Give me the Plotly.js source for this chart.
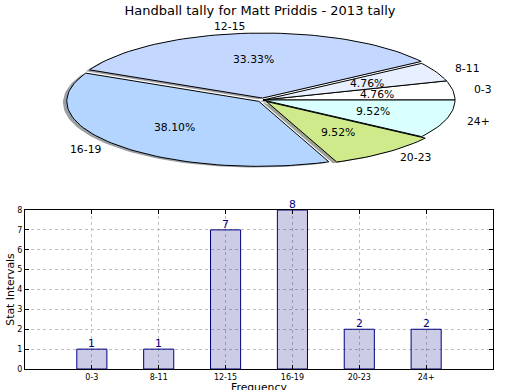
<!DOCTYPE html>
<html>
<head>
<meta charset="utf-8">
<script src="https://cdn.plot.ly/plotly-3.0.1.min.js"></script>
<style>html,body{margin:0;padding:0;background:#fff;}#chart{width:520px;height:390px;}</style>
</head>
<body>
<div id="chart"></div>
<script>
// ---- data ----
var categories = ["0-3", "8-11", "12-15", "16-19", "20-23", "24+"];
var tallies = [1, 1, 7, 8, 2, 2];
var sliceColors = ["#ffffff", "#e8f0ff", "#c4d8ff", "#b3d5ff", "#cfea8a", "#d9ffff"];
var explodeAmt = [0, 0, 0.03, 0.03, 0.03, 0];
var chartTitle = "Handball tally for Matt Priddis - 2013 tally";
var xTitle = "Frequency";
var yTitle = "Stat Intervals";

var FONT = "DejaVu Sans, sans-serif";
var total = tallies.reduce(function(a, b){ return a + b; }, 0);

var traces = [];
var annotations = [];

// pie wedges drawn on an unequal-aspect cartesian axis (ellipse, like the source)
function wedgePoints(a1, a2, ox, oy) {
  var xs = [ox], ys = [oy];
  var n = Math.max(4, Math.ceil((a2 - a1) / (Math.PI / 90)));
  for (var k = 0; k <= n; k++) {
    var a = a1 + (a2 - a1) * k / n;
    xs.push(ox + Math.cos(a));
    ys.push(oy + Math.sin(a));
  }
  xs.push(ox); ys.push(oy);
  return {x: xs, y: ys};
}

var angles = [];
var acc = 0;
for (var i = 0; i < tallies.length; i++) {
  var a1 = 2 * Math.PI * acc / total;
  acc += tallies[i];
  var a2 = 2 * Math.PI * acc / total;
  angles.push([a1, a2]);
}

function hexToRgb(h) {
  return [parseInt(h.substr(1,2),16), parseInt(h.substr(3,2),16), parseInt(h.substr(5,2),16)];
}

// shadows
for (var i = 0; i < tallies.length; i++) {
  var am = (angles[i][0] + angles[i][1]) / 2;
  var ox = explodeAmt[i] * Math.cos(am) - 0.02;
  var oy = explodeAmt[i] * Math.sin(am) - 0.02;
  var p = wedgePoints(angles[i][0], angles[i][1], ox, oy);
  var c = hexToRgb(sliceColors[i]);
  traces.push({
    type: "scatter", mode: "lines", x: p.x, y: p.y, xaxis: "x2", yaxis: "y2",
    fill: "toself", fillcolor: "rgba(" + Math.round(c[0]*0.3) + "," + Math.round(c[1]*0.3) + "," + Math.round(c[2]*0.3) + ",0.5)",
    line: {width: 0}, hoverinfo: "skip", showlegend: false
  });
}
// wedges + labels
for (var i = 0; i < tallies.length; i++) {
  var am = (angles[i][0] + angles[i][1]) / 2;
  var ox = explodeAmt[i] * Math.cos(am);
  var oy = explodeAmt[i] * Math.sin(am);
  var p = wedgePoints(angles[i][0], angles[i][1], ox, oy);
  traces.push({
    type: "scatter", mode: "lines", x: p.x, y: p.y, xaxis: "x2", yaxis: "y2",
    fill: "toself", fillcolor: sliceColors[i],
    line: {color: "#000000", width: 1}, hoverinfo: "skip", showlegend: false,
    name: categories[i]
  });
  var lx = ox + 1.1 * Math.cos(am), ly = oy + 1.1 * Math.sin(am);
  annotations.push({
    xref: "x2", yref: "y2", x: lx, y: ly, text: categories[i], showarrow: false,
    xanchor: lx > 0 ? "left" : "right", yanchor: "middle",
    font: {family: FONT, size: 10.8, color: "#000"}
  });
  annotations.push({
    xref: "x2", yref: "y2", x: ox + 0.6 * Math.cos(am), y: oy + 0.6 * Math.sin(am),
    text: (100 * tallies[i] / total).toFixed(2) + "%", showarrow: false,
    xanchor: "center", yanchor: "middle",
    font: {family: FONT, size: 10.8, color: "#000"}
  });
}

// bar chart
traces.push({
  type: "bar", x: categories, y: tallies, xaxis: "x", yaxis: "y",
  width: 0.45,
  marker: {color: "rgba(0,0,128,0.2)", line: {color: "#000080", width: 1}},
  hoverinfo: "skip", showlegend: false
});
// value labels just above each bar
for (var i = 0; i < categories.length; i++) {
  annotations.push({
    xref: "x", yref: "y", x: categories[i], y: tallies[i], text: String(tallies[i]),
    showarrow: false, xanchor: "center", yanchor: "bottom", yshift: -3,
    font: {family: FONT, size: 10.8, color: "#000080"}
  });
}
// x-axis title (sits at the very bottom edge, like the source)
annotations.push({
  xref: "paper", yref: "paper", x: 0.5, y: 0, xanchor: "center", yanchor: "top", yshift: -10,
  text: xTitle, showarrow: false, font: {family: FONT, size: 10.8, color: "#000"}
});

// pie axis geometry (pixels): plot area x 25..493, center x 263, rx 192; y domain 15..185, center 100, ry 65
var plotTop = 0, plotBottom = 369; // plot area in px (margin t=0, b=21)
var H = plotBottom - plotTop;
var layout = {
  width: 520, height: 390,
  margin: {l: 25, r: 27, t: 0, b: 21},
  paper_bgcolor: "#ffffff", plot_bgcolor: "rgba(0,0,0,0)",
  font: {family: FONT, color: "#000"},
  title: {text: chartTitle, x: 0.5, xanchor: "center", y: 0.974, yref: "container", yanchor: "middle",
          font: {family: FONT, size: 13, color: "#000"}},
  showlegend: false,
  bargap: 0,
  xaxis: {
    domain: [0, 1], anchor: "y", type: "category", range: [-1, 6],
    showline: true, linecolor: "#000", linewidth: 1, mirror: "ticks",
    ticks: "inside", ticklen: 4, tickcolor: "#000",
    showgrid: true, gridcolor: "#c0c0c0", griddash: "dot", gridwidth: 1,
    tickfont: {family: FONT, size: 8, color: "#000"},
    fixedrange: true, zeroline: false
  },
  yaxis: {
    domain: [0, 159 / H], anchor: "x", range: [0, 8], dtick: 1,
    showline: true, linecolor: "#000", linewidth: 1, mirror: "ticks",
    ticks: "inside", ticklen: 4, tickcolor: "#000",
    showgrid: true, gridcolor: "#c0c0c0", griddash: "dot", gridwidth: 1,
    zeroline: false,
    tickfont: {family: FONT, size: 8, color: "#000"},
    title: {text: yTitle, font: {family: FONT, size: 10.8, color: "#000"}, standoff: 0},
    fixedrange: true
  },
  xaxis2: {
    domain: [0, 1], anchor: "y2", range: [-(263 - 25) / 192, (493 - 263) / 192],
    visible: false, fixedrange: true
  },
  yaxis2: {
    domain: [(plotBottom - 185) / H, (plotBottom - 15) / H], anchor: "x2",
    range: [-85 / 65, 85 / 65], visible: false, fixedrange: true
  },
  annotations: annotations
};

Plotly.newPlot("chart", traces, layout, {displayModeBar: false, staticPlot: true});
</script>
</body>
</html>
